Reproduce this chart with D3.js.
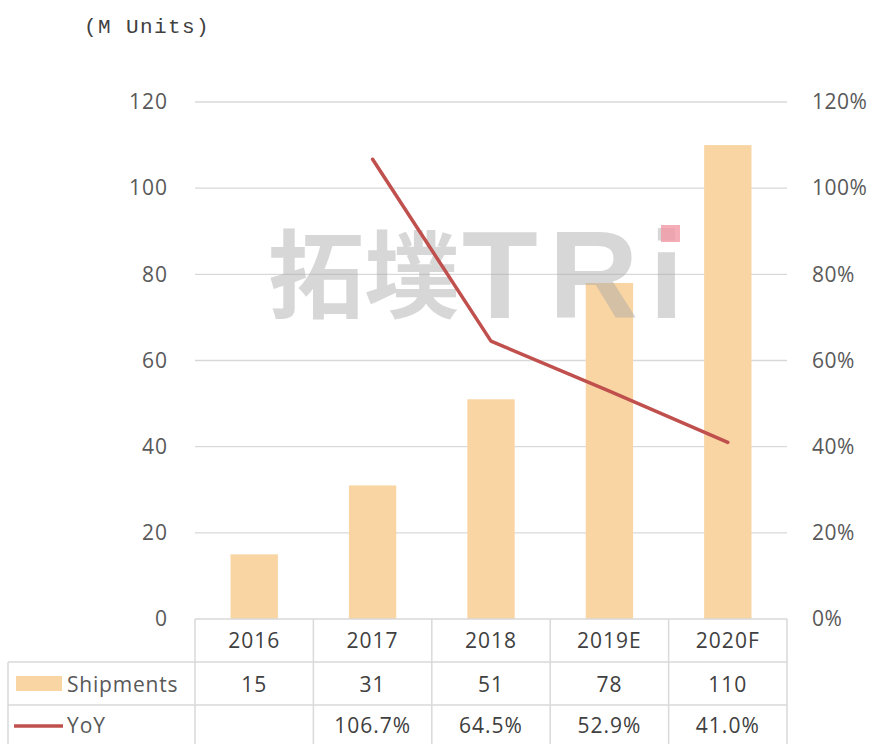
<!DOCTYPE html>
<html>
<head>
<meta charset="utf-8">
<script src="https://cdn.jsdelivr.net/npm/d3@7"></script>
<style>
  body { margin: 0; background: #fff; }
  text { font-family: "Open Sans", "Noto Sans", sans-serif; }
</style>
</head>
<body>
<script>
const years = ["2016", "2017", "2018", "2019E", "2020F"];
const shipments = [15, 31, 51, 78, 110];
const yoy = [null, 106.7, 64.5, 52.9, 41.0];
const leftTicks = [0, 20, 40, 60, 80, 100, 120];
const rightTicks = [0, 20, 40, 60, 80, 100, 120];

const w = 877, h = 744;
const svg = d3.select("body").append("svg")
  .attr("width", w).attr("height", h);

const x = d3.scaleBand().domain(years).range([195, 787]).paddingInner(0).paddingOuter(0);
const yL = d3.scaleLinear().domain([0, 120]).range([619, 102]);
const yR = d3.scaleLinear().domain([0, 120]).range([619, 102]);

// units label
svg.append("text")
  .attr("x", 84).attr("y", 33)
  .style("font-family", "Liberation Mono, DejaVu Sans Mono, monospace")
  .style("font-size", "21px")
  .style("letter-spacing", "1.4px")
  .attr("fill", "#404040")
  .text("(M Units)");

// gridlines
svg.append("g").selectAll("line")
  .data(leftTicks.filter(d => d > 0))
  .enter().append("line")
  .attr("x1", 195).attr("x2", 787)
  .attr("y1", d => yL(d)).attr("y2", d => yL(d))
  .attr("stroke", "#d9d9d9").attr("stroke-width", 1.3);

// left axis
const axL = svg.append("g").attr("transform", "translate(168,0)")
  .call(d3.axisLeft(yL).tickValues(leftTicks).tickSize(0).tickPadding(0));
axL.select(".domain").remove();
axL.selectAll("text").style("font-size", "21px").attr("fill", "#595959")
  .style("font-family", "Open Sans, sans-serif").style("letter-spacing", "1px");

// right axis
const axR = svg.append("g").attr("transform", "translate(812,0)")
  .call(d3.axisRight(yR).tickValues(rightTicks).tickSize(0).tickPadding(0)
    .tickFormat(d => d + "%"));
axR.select(".domain").remove();
axR.selectAll("text").style("font-size", "21px").attr("fill", "#595959")
  .style("font-family", "Open Sans, sans-serif").style("letter-spacing", "0.5px");

// bars
const bw = x.bandwidth() * 0.4;
svg.append("g").selectAll("rect")
  .data(shipments)
  .enter().append("rect")
  .attr("x", (d, i) => x(years[i]) + x.bandwidth() / 2 - bw / 2)
  .attr("y", d => yL(d))
  .attr("width", bw)
  .attr("height", d => yL(0) - yL(d))
  .attr("fill", "#f9d5a4");

// watermark
const wm = svg.append("g").attr("opacity", 0.45);
wm.append("text")
  .attr("x", 268).attr("y", 310)
  .style("font-family", "Noto Sans CJK SC")
  .style("font-weight", "bold")
  .style("font-size", "96px")
  .attr("fill", "#a8a8a8")
  .text("拓墣");
wm.append("text")
  .attr("x", 462).attr("y", 318)
  .style("font-family", "Liberation Sans, sans-serif")
  .style("font-weight", "bold")
  .style("font-size", "124px")
  .style("letter-spacing", "11px")
  .attr("fill", "#a8a8a8")
  .text("TRi");
svg.append("rect")
  .attr("x", 661).attr("y", 225).attr("width", 19).attr("height", 17)
  .attr("fill", "#f29aa6").attr("opacity", 0.8);

// line
const lineData = years.map((y, i) => [y, yoy[i]]).filter(d => d[1] !== null);
svg.append("path")
  .datum(lineData)
  .attr("fill", "none")
  .attr("stroke", "#c0504d")
  .attr("stroke-width", 3.5)
  .attr("stroke-linecap", "round")
  .attr("stroke-linejoin", "round")
  .attr("d", d3.line()
    .x(d => x(d[0]) + x.bandwidth() / 2)
    .y(d => yR(d[1])));

// data table
const rowY = [619, 662, 705, 744];
const tg = svg.append("g");
const grid = "#d9d9d9";
tg.append("line").attr("x1", 195).attr("x2", 787).attr("y1", rowY[0]).attr("y2", rowY[0]).attr("stroke", grid).attr("stroke-width", 1.5);
tg.append("line").attr("x1", 8).attr("x2", 787).attr("y1", rowY[1]).attr("y2", rowY[1]).attr("stroke", grid).attr("stroke-width", 1.5);
tg.append("line").attr("x1", 8).attr("x2", 787).attr("y1", rowY[2]).attr("y2", rowY[2]).attr("stroke", grid).attr("stroke-width", 1.5);
const vx = years.map(y => x(y)).concat([x.range()[1]]);
tg.selectAll(".v").data(vx).enter().append("line")
  .attr("x1", d => d).attr("x2", d => d)
  .attr("y1", rowY[0]).attr("y2", h)
  .attr("stroke", grid).attr("stroke-width", 1.5);
tg.append("line").attr("x1", 8).attr("x2", 8).attr("y1", rowY[1]).attr("y2", h)
  .attr("stroke", grid).attr("stroke-width", 1.5);

const cellText = (vals, cy, fmt) => {
  tg.selectAll(null).data(vals).enter().append("text")
    .attr("x", (d, i) => x(years[i]) + x.bandwidth() / 2)
    .attr("y", cy)
    .attr("text-anchor", "middle")
    .attr("dominant-baseline", "central")
    .style("font-size", "21px")
    .style("letter-spacing", "1px")
    .attr("fill", "#404040")
    .text(fmt);
};
cellText(years, 640, d => d);
cellText(shipments, 684, d => d);
cellText(yoy, 725, d => d === null ? "" : d.toFixed(1) + "%");

// legend keys
tg.append("rect").attr("x", 16).attr("y", 676).attr("width", 46).attr("height", 15).attr("fill", "#f9d5a4");
tg.append("text").attr("x", 67).attr("y", 684).attr("dominant-baseline", "central")
  .style("font-size", "21px").style("letter-spacing", "0.8px").attr("fill", "#595959").text("Shipments");
tg.append("line").attr("x1", 14).attr("x2", 63).attr("y1", 726).attr("y2", 726)
  .attr("stroke", "#c0504d").attr("stroke-width", 3.5);
tg.append("text").attr("x", 67).attr("y", 725).attr("dominant-baseline", "central")
  .style("font-size", "21px").style("letter-spacing", "1px").attr("fill", "#595959").text("YoY");
</script>
</body>
</html>
